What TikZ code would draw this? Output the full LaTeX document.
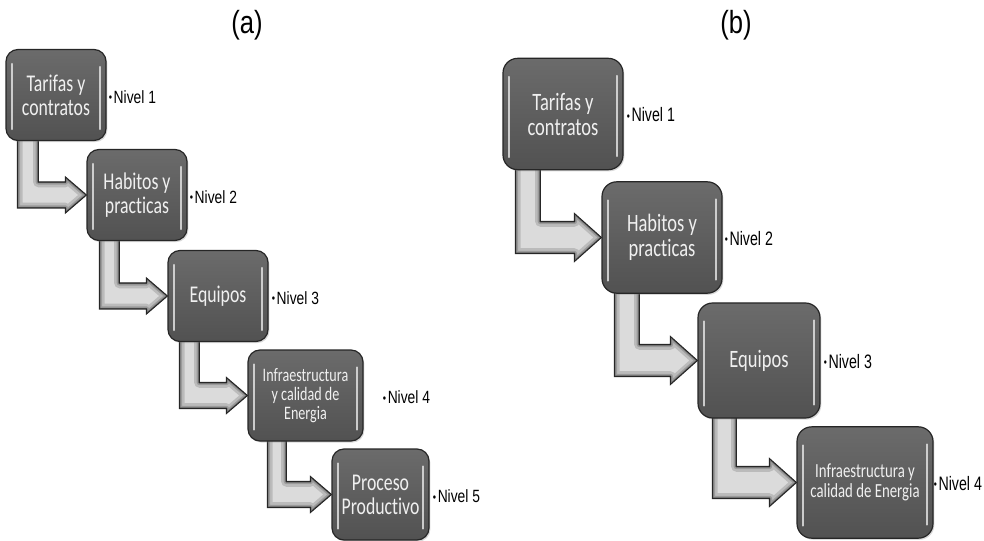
\documentclass[tikz,border=0pt]{standalone}
\usepackage{fontspec}
\setmainfont{Liberation Sans}
\newfontfamily\boxfont{Carlito}[FakeStretch=0.74, Ligatures=NoCommon]
\newfontfamily\lblfont{Liberation Sans}[FakeStretch=0.78]
\newfontfamily\lblfontb{Liberation Sans}[FakeStretch=0.73]
\newfontfamily\ttlfont{Liberation Sans}[FakeStretch=0.8]
\usetikzlibrary{calc,backgrounds,shadows}

% bent connector: #1 source node, #2 target node, #3 shaft offset from the
% source's left edge, #4 shaft width, #5 half height of the horizontal shaft,
% #6 half height of the head, #7 head length (all in px units)
\newcommand\bentarr[7]{%
  \coordinate (p0) at ($(#1.south west)+(#3,-6)$);
  \coordinate (p1) at ($(p0)+(#4,0)$);
  \coordinate (tp) at (#2.west);
  \coordinate (su) at ($(tp)+(-#7,-#5)$);
  \coordinate (sd) at ($(tp)+(-#7,#5)$);
  \coordinate (hu) at ($(tp)+(-#7,-#6)$);
  \coordinate (hd) at ($(tp)+(-#7,#6)$);
  \def\arrowoutline{(p0) -- (p1) -- (p1 |- su) -- (su) -- (hu) -- (tp) -- (hd) -- (sd) -- (p0 |- sd) -- cycle}%
  \fill[arrowfill] \arrowoutline;
  \begin{scope}
    \clip \arrowoutline;
    \draw[black!50, line width=8pt, opacity=.35, line join=round] \arrowoutline;
    \draw[black!55, line width=4pt, opacity=.45, line join=round] \arrowoutline;
    \draw[black!65, line width=1.8pt, opacity=.6, line join=round] \arrowoutline;
  \end{scope}
  \draw[arrowline] \arrowoutline;
}

\begin{document}
\begin{tikzpicture}[x=0.75pt,y=-0.75pt,
  box/.style={draw=black!85, line width=0.9pt, top color=black!58, bottom color=black!68,
    text=white!94!black, align=center, inner sep=0pt, font=\boxfont,
    drop shadow={shadow xshift=1pt, shadow yshift=-1.2pt, opacity=.3}},
  boxa/.style={box, rounded corners=9pt, minimum width=75pt, minimum height=68.25pt},
  boxb/.style={box, rounded corners=11pt, minimum width=90pt, minimum height=83.5pt},
  txta/.style={font=\boxfont\fontsize{18pt}{18pt}\selectfont},
  txtb/.style={font=\boxfont\fontsize{18.75pt}{18.75pt}\selectfont},
  lbl/.style={anchor=west, inner sep=0pt, font=\lblfont\fontsize{13.3pt}{14pt}\selectfont},
  lblb/.style={anchor=west, inner sep=0pt, font=\lblfontb\fontsize{14.6pt}{15pt}\selectfont},
  ttl/.style={inner sep=0pt, font=\ttlfont\fontsize{24pt}{24pt}\selectfont},
  arrowfill/.style={fill=black!14},
  arrowline/.style={draw=black!85, line width=0.8pt, line join=miter},
  hl/.style={draw=white!88!black, line width=1.4pt, line cap=round, opacity=.85},
]
\useasboundingbox (0,0) rectangle (984,541);

\newcommand\bul{{\fontsize{9pt}{9pt}\selectfont\raisebox{1.2pt}{•}}\hspace{1.2pt}}

% titles
\node[ttl] (ta) at (247,25) {(a)};
\node[ttl] (tb) at (736,25) {(b)};

% ---- five levels ----
\node[boxa, txta] (a1) at (56,95) {Tarifas y\\contratos};
\node[boxa, txta] (a2) at (137,195) {Habitos y\\practicas};
\node[boxa, txta] (a3) at (218,296) {Equipos};
\node[boxa, minimum width=86.25pt, font=\boxfont\fontsize{14.3pt}{14.5pt}\selectfont] (a4) at (305.5,395.5) {Infraestructura\\y calidad de\\Energia};
\node[boxa, txta, minimum width=72.75pt] (a5) at (380.5,494.5) {Proceso\\Productivo};

\node[lbl] (na1) at ($(a1.east)+(2,2)$) {\bul Nivel 1};
\node[lbl] (na2) at ($(a2.east)+(2,2)$) {\bul Nivel 2};
\node[lbl] (na3) at ($(a3.east)+(3,2)$) {\bul Nivel 3};
\node[lbl] (na4) at ($(a4.east)+(19,2)$) {\bul Nivel 4};
\node[lbl] (na5) at ($(a5.east)+(3,2)$) {\bul Nivel 5};

% ---- four levels ----
\node[boxb, txtb] (b1) at (563,114) {Tarifas y\\contratos};
\node[boxb, txtb] (b2) at (662,237.5) {Habitos y\\practicas};
\node[boxb, txtb, minimum width=91.5pt, minimum height=86.25pt] (b3) at (759,360.5) {Equipos};
\node[boxb, minimum width=102pt, font=\boxfont\fontsize{15pt}{15pt}\selectfont] (b4) at (865,482.5) {Infraestructura y\\calidad de Energia};

\node[lblb] (nb1) at ($(b1.east)+(3,1)$) {\bul Nivel 1};
\node[lblb] (nb2) at ($(b2.east)+(2,1)$) {\bul Nivel 2};
\node[lblb] (nb3) at ($(b3.east)+(3,1)$) {\bul Nivel 3};
\node[lblb] (nb4) at ($(b4.east)+(0,1)$) {\bul Nivel 4};

% glossy edge highlights
\foreach \b in {a1,a2,a3,a4,a5} {
  \draw[hl] ($(\b.north west)+(7,15)$) -- ($(\b.south west)+(7,-12)$);
  \draw[hl] ($(\b.north east)+(-7,18)$) -- ($(\b.south east)+(-7,-12)$);
}
\foreach \b in {b1,b2,b3,b4} {
  \draw[hl] ($(\b.north west)+(7,19)$) -- ($(\b.south west)+(7,-13)$);
  \draw[hl] ($(\b.north east)+(-7,18)$) -- ($(\b.south east)+(-7,-14)$);
}

% connectors behind the boxes
\begin{pgfonlayer}{background}
  \bentarr{a1}{a2}{12}{21}{13}{18}{21}
  \bentarr{a2}{a3}{13}{20}{13}{18}{21}
  \bentarr{a3}{a4}{12}{20}{13}{18}{21}
  \bentarr{a4}{a5}{20}{19}{13}{18}{21}
  \bentarr{b1}{b2}{13}{25}{16}{24}{27}
  \bentarr{b2}{b3}{13}{25}{16}{24}{27}
  \bentarr{b3}{b4}{15}{24}{16}{24}{27}
\end{pgfonlayer}
\end{tikzpicture}
\end{document}
